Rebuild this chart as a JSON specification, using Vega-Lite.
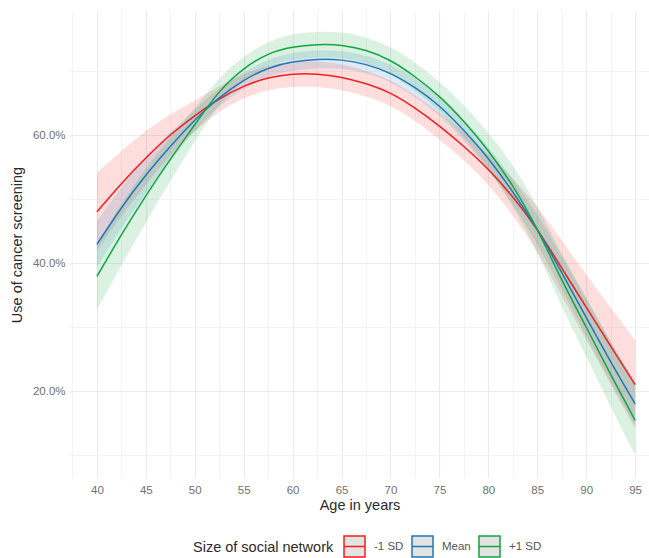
{
  "$schema": "https://vega.github.io/schema/vega-lite/v6.json",
  "width": 579,
  "height": 467,
  "autosize": {"type": "none"},
  "padding": {"left": 70, "top": 11, "right": 0, "bottom": 80},
  "background": "white",
  "config": {
    "view": {"stroke": null},
    "font": "Liberation Sans",
    "axis": {
      "domain": false,
      "ticks": false,
      "gridColor": "#ebebeb",
      "labelColor": "#707070",
      "labelFontSize": 11.5,
      "titleFontSize": 14.5,
      "titleFontWeight": "normal",
      "titleColor": "#2b2b2b"
    }
  },
  "data": {
    "values": [
      {"age": 40, "group": "-1 SD", "fit": 48.0, "lo": 41.9, "hi": 54.1},
      {"age": 42.5, "group": "-1 SD", "fit": 52.4, "lo": 47.3, "hi": 57.5},
      {"age": 45, "group": "-1 SD", "fit": 56.4, "lo": 52.2, "hi": 60.6},
      {"age": 47.5, "group": "-1 SD", "fit": 60.0, "lo": 56.8, "hi": 63.2},
      {"age": 50, "group": "-1 SD", "fit": 63.0, "lo": 60.6, "hi": 65.4},
      {"age": 52.5, "group": "-1 SD", "fit": 65.6, "lo": 63.6, "hi": 67.6},
      {"age": 55, "group": "-1 SD", "fit": 67.6, "lo": 65.7, "hi": 69.5},
      {"age": 57.5, "group": "-1 SD", "fit": 68.9, "lo": 67.0, "hi": 70.8},
      {"age": 60, "group": "-1 SD", "fit": 69.5, "lo": 67.5, "hi": 71.5},
      {"age": 62.5, "group": "-1 SD", "fit": 69.5, "lo": 67.5, "hi": 71.5},
      {"age": 65, "group": "-1 SD", "fit": 69.0, "lo": 67.0, "hi": 71.0},
      {"age": 67.5, "group": "-1 SD", "fit": 68.0, "lo": 66.0, "hi": 70.0},
      {"age": 70, "group": "-1 SD", "fit": 66.5, "lo": 64.5, "hi": 68.5},
      {"age": 72.5, "group": "-1 SD", "fit": 64.2, "lo": 62.2, "hi": 66.2},
      {"age": 75, "group": "-1 SD", "fit": 61.4, "lo": 59.3, "hi": 63.5},
      {"age": 77.5, "group": "-1 SD", "fit": 58.2, "lo": 56.0, "hi": 60.4},
      {"age": 80, "group": "-1 SD", "fit": 54.6, "lo": 52.2, "hi": 57.0},
      {"age": 82.5, "group": "-1 SD", "fit": 50.3, "lo": 47.4, "hi": 53.2},
      {"age": 85, "group": "-1 SD", "fit": 45.2, "lo": 41.7, "hi": 48.7},
      {"age": 87.5, "group": "-1 SD", "fit": 39.2, "lo": 34.9, "hi": 43.5},
      {"age": 90, "group": "-1 SD", "fit": 33.1, "lo": 28.0, "hi": 38.2},
      {"age": 92.5, "group": "-1 SD", "fit": 27.0, "lo": 21.0, "hi": 33.0},
      {"age": 95, "group": "-1 SD", "fit": 21.0, "lo": 14.1, "hi": 27.9},
      {"age": 40, "group": "Mean", "fit": 42.9, "lo": 39.3, "hi": 46.5},
      {"age": 42.5, "group": "Mean", "fit": 48.6, "lo": 45.4, "hi": 51.8},
      {"age": 45, "group": "Mean", "fit": 53.7, "lo": 50.9, "hi": 56.5},
      {"age": 47.5, "group": "Mean", "fit": 58.2, "lo": 56.0, "hi": 60.4},
      {"age": 50, "group": "Mean", "fit": 62.3, "lo": 60.6, "hi": 64.0},
      {"age": 52.5, "group": "Mean", "fit": 65.8, "lo": 64.4, "hi": 67.2},
      {"age": 55, "group": "Mean", "fit": 68.5, "lo": 67.2, "hi": 69.8},
      {"age": 57.5, "group": "Mean", "fit": 70.4, "lo": 69.1, "hi": 71.7},
      {"age": 60, "group": "Mean", "fit": 71.4, "lo": 70.0, "hi": 72.8},
      {"age": 62.5, "group": "Mean", "fit": 71.8, "lo": 70.4, "hi": 73.2},
      {"age": 65, "group": "Mean", "fit": 71.7, "lo": 70.3, "hi": 73.1},
      {"age": 67.5, "group": "Mean", "fit": 71.0, "lo": 69.6, "hi": 72.4},
      {"age": 70, "group": "Mean", "fit": 69.6, "lo": 68.2, "hi": 71.0},
      {"age": 72.5, "group": "Mean", "fit": 67.4, "lo": 65.9, "hi": 68.9},
      {"age": 75, "group": "Mean", "fit": 64.5, "lo": 63.0, "hi": 66.0},
      {"age": 77.5, "group": "Mean", "fit": 60.7, "lo": 59.1, "hi": 62.3},
      {"age": 80, "group": "Mean", "fit": 56.3, "lo": 54.5, "hi": 58.1},
      {"age": 82.5, "group": "Mean", "fit": 51.1, "lo": 49.1, "hi": 53.1},
      {"age": 85, "group": "Mean", "fit": 45.2, "lo": 42.9, "hi": 47.5},
      {"age": 87.5, "group": "Mean", "fit": 38.5, "lo": 35.9, "hi": 41.1},
      {"age": 90, "group": "Mean", "fit": 31.5, "lo": 28.6, "hi": 34.4},
      {"age": 92.5, "group": "Mean", "fit": 24.6, "lo": 21.4, "hi": 27.8},
      {"age": 95, "group": "Mean", "fit": 18.0, "lo": 14.6, "hi": 21.4},
      {"age": 40, "group": "+1 SD", "fit": 37.9, "lo": 32.7, "hi": 43.1},
      {"age": 42.5, "group": "+1 SD", "fit": 44.4, "lo": 39.6, "hi": 49.2},
      {"age": 45, "group": "+1 SD", "fit": 50.5, "lo": 46.3, "hi": 54.7},
      {"age": 47.5, "group": "+1 SD", "fit": 56.2, "lo": 52.8, "hi": 59.6},
      {"age": 50, "group": "+1 SD", "fit": 61.6, "lo": 59.0, "hi": 64.2},
      {"age": 52.5, "group": "+1 SD", "fit": 66.7, "lo": 64.6, "hi": 68.8},
      {"age": 55, "group": "+1 SD", "fit": 70.3, "lo": 68.4, "hi": 72.2},
      {"age": 57.5, "group": "+1 SD", "fit": 72.6, "lo": 70.7, "hi": 74.5},
      {"age": 60, "group": "+1 SD", "fit": 73.7, "lo": 71.7, "hi": 75.7},
      {"age": 62.5, "group": "+1 SD", "fit": 74.1, "lo": 72.1, "hi": 76.1},
      {"age": 65, "group": "+1 SD", "fit": 74.0, "lo": 72.0, "hi": 76.0},
      {"age": 67.5, "group": "+1 SD", "fit": 73.2, "lo": 71.2, "hi": 75.2},
      {"age": 70, "group": "+1 SD", "fit": 71.6, "lo": 69.5, "hi": 73.7},
      {"age": 72.5, "group": "+1 SD", "fit": 69.1, "lo": 66.9, "hi": 71.3},
      {"age": 75, "group": "+1 SD", "fit": 66.0, "lo": 63.7, "hi": 68.3},
      {"age": 77.5, "group": "+1 SD", "fit": 62.1, "lo": 59.6, "hi": 64.6},
      {"age": 80, "group": "+1 SD", "fit": 57.5, "lo": 54.7, "hi": 60.3},
      {"age": 82.5, "group": "+1 SD", "fit": 52.0, "lo": 48.8, "hi": 55.2},
      {"age": 85, "group": "+1 SD", "fit": 45.2, "lo": 41.6, "hi": 48.8},
      {"age": 87.5, "group": "+1 SD", "fit": 37.4, "lo": 33.3, "hi": 41.5},
      {"age": 90, "group": "+1 SD", "fit": 30.0, "lo": 25.4, "hi": 34.6},
      {"age": 92.5, "group": "+1 SD", "fit": 22.6, "lo": 17.6, "hi": 27.6},
      {"age": 95, "group": "+1 SD", "fit": 15.4, "lo": 10.0, "hi": 20.8}
    ]
  },
  "encoding": {
    "x": {
      "field": "age",
      "type": "quantitative",
      "scale": {"domain": [37.25, 96.42], "nice": false, "zero": false},
      "axis": {
        "title": "Age in years",
        "values": [37.5, 40, 42.5, 45, 47.5, 50, 52.5, 55, 57.5, 60, 62.5, 65, 67.5, 70, 72.5, 75, 77.5, 80, 82.5, 85, 87.5, 90, 92.5, 95],
        "labelExpr": "datum.value % 5 == 0 ? datum.label : ''",
        "gridWidth": {"condition": {"test": "datum.value % 5 == 0", "value": 1.1}, "value": 0.55},
        "labelColor": "#707070",
        "labelPadding": 6,
        "titlePadding": 3
      }
    }
  },
  "layer": [
    {
      "mark": {"type": "area", "opacity": 0.15, "interpolate": "natural"},
      "encoding": {
        "y": {
          "field": "lo",
          "type": "quantitative",
          "scale": {"domain": [6.41, 79.375], "nice": false, "zero": false},
          "axis": {
            "title": "Use of cancer screening",
            "values": [10, 20, 30, 40, 50, 60, 70],
            "labelExpr": "datum.value % 20 == 0 ? format(datum.value, '.1f') + '%' : ''",
            "gridWidth": {"condition": {"test": "datum.value % 20 == 0", "value": 1.1}, "value": 0.55},
            "labelColor": "#707070",
            "labelPadding": 5,
            "titlePadding": 8
          }
        },
        "y2": {"field": "hi"},
        "fill": {
          "field": "group",
          "type": "nominal",
          "scale": {"domain": ["Mean", "-1 SD", "+1 SD"], "range": ["#1f78b8", "#f51d1d", "#10a640"]},
          "legend": null
        }
      }
    },
    {
      "mark": {"type": "line", "strokeWidth": 1.5, "interpolate": "natural"},
      "encoding": {
        "y": {
          "field": "fit",
          "type": "quantitative",
          "scale": {"domain": [6.41, 79.375], "nice": false, "zero": false},
          "axis": {
            "title": "Use of cancer screening",
            "values": [10, 20, 30, 40, 50, 60, 70],
            "labelExpr": "datum.value % 20 == 0 ? format(datum.value, '.1f') + '%' : ''",
            "gridWidth": {"condition": {"test": "datum.value % 20 == 0", "value": 1.1}, "value": 0.55},
            "labelColor": "#707070",
            "labelPadding": 5,
            "titlePadding": 8
          }
        },
        "stroke": {
          "field": "group",
          "type": "nominal",
          "scale": {"domain": ["-1 SD", "Mean", "+1 SD"], "range": ["#f51d1d", "#1f78b8", "#10a640"]},
          "legend": {
            "title": "Size of social network",
            "orient": "none",
            "legendX": 123,
            "legendY": 524,
            "direction": "horizontal",
            "titleOrient": "left",
            "titleFontSize": 14.5,
            "titleFontWeight": "normal",
            "titleColor": "#2b2b2b",
            "titlePadding": 9,
            "titleBaseline": "middle",
            "labelFontSize": 11.5,
            "labelColor": "#555555",
            "labelOffset": 8,
            "columnPadding": 5,
            "symbolType": "M-1,-1H1V1H-1Z M-1,0H1",
            "symbolSize": 441,
            "symbolStrokeWidth": 1.5,
            "symbolFillColor": "#e3e3e3",
            "encode": {"symbols": {"update": {"fill": {"value": "#e3e3e3"}, "fillOpacity": {"value": 1}, "opacity": {"value": 1}, "strokeOpacity": {"value": 1}}}}
          }
        }
      }
    }
  ]
}
